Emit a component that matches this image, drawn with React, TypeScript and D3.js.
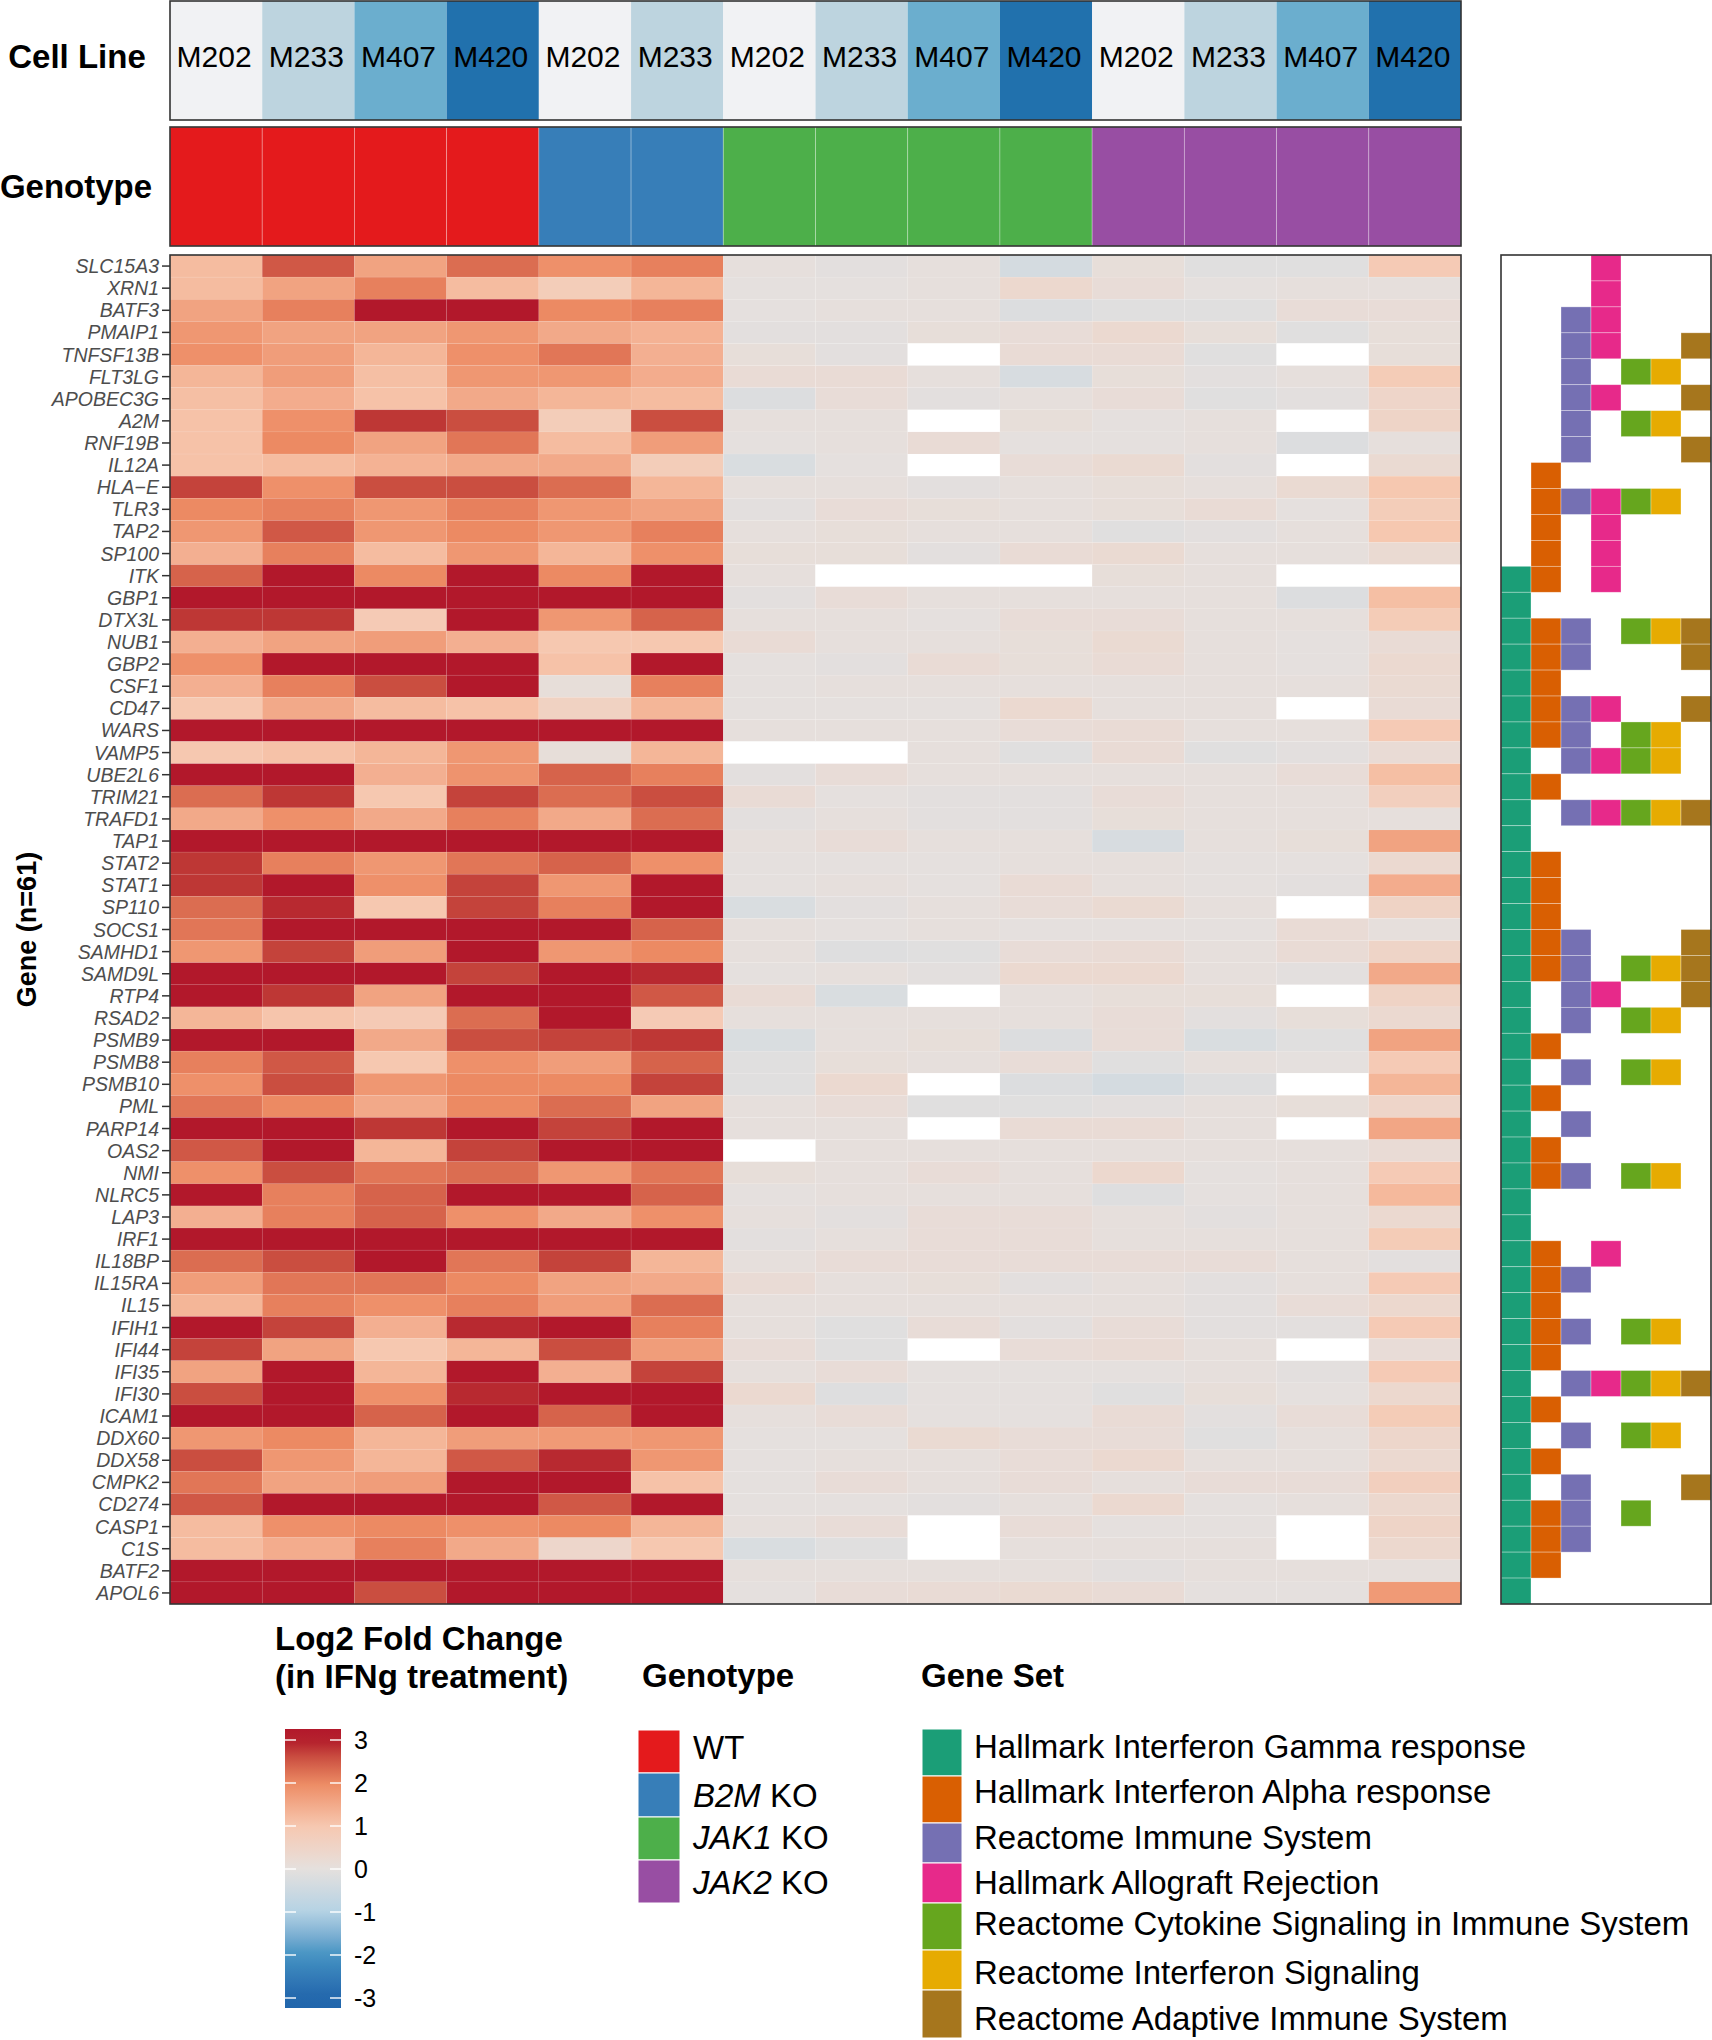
import React from 'react';
import * as d3 from 'd3';

// ---------------- DATA ----------------
const genes = [
  'SLC15A3','XRN1','BATF3','PMAIP1','TNFSF13B','FLT3LG','APOBEC3G','A2M','RNF19B','IL12A',
  'HLA\u2212E','TLR3','TAP2','SP100','ITK','GBP1','DTX3L','NUB1','GBP2','CSF1',
  'CD47','WARS','VAMP5','UBE2L6','TRIM21','TRAFD1','TAP1','STAT2','STAT1','SP110',
  'SOCS1','SAMHD1','SAMD9L','RTP4','RSAD2','PSMB9','PSMB8','PSMB10','PML','PARP14',
  'OAS2','NMI','NLRC5','LAP3','IRF1','IL18BP','IL15RA','IL15','IFIH1','IFI44',
  'IFI35','IFI30','ICAM1','DDX60','DDX58','CMPK2','CD274','CASP1','C1S','BATF2','APOL6'
];

const sampleCellLines = ['M202','M233','M407','M420','M202','M233','M202','M233','M407','M420','M202','M233','M407','M420'];
const sampleGenotypes = ['WT','WT','WT','WT','B2M KO','B2M KO','JAK1 KO','JAK1 KO','JAK1 KO','JAK1 KO','JAK2 KO','JAK2 KO','JAK2 KO','JAK2 KO'];

const wt_M202 = [1.2,1.2,1.6,1.8,1.9,1.3,1.15,1.1,1.1,1.1, 2.7,2.0,1.8,1.4,2.4, 3.5,2.8,1.4,1.9,1.4, 1.0,3.5,1.0,3.5,2.3, 1.5,3.5,2.8,2.8,2.3, 2.2,1.8,3.5,3.5,1.3, 3.5,2.1,1.9,2.2,3.5, 2.5,1.9,3.5,1.4,3.5, 2.3,1.7,1.3,3.2,2.7, 1.6,2.6,3.3,1.8,2.6, 2.2,2.5,1.2,1.2,3.5, 3.5];
const wt_M233 = [2.5,1.6,2.1,1.6,1.7,1.7,1.45,1.9,2.0,1.2, 1.9,2.1,2.5,2.1,3.5, 3.5,2.8,1.6,3.5,2.1, 1.5,3.5,1.1,3.5,2.8, 1.9,3.5,2.1,3.5,2.9, 3.5,2.7,3.5,2.8,1.05, 3.5,2.5,2.6,2.0,3.5, 3.5,2.6,2.1,2.1,3.5, 2.6,2.2,2.1,2.7,1.6, 3.2,3.5,3.5,2.0,1.8, 1.6,3.2,1.9,1.45,3.5, 3.5];
const wt_M407 = [1.6,2.1,3.5,1.6,1.3,1.15,1.1,2.8,1.6,1.35, 2.6,1.8,1.8,1.2,2.0, 3.5,0.9,1.7,3.5,2.6, 1.2,3.5,1.3,1.4,1.0, 1.5,3.5,1.8,1.9,1.0, 3.5,1.7,3.5,1.6,0.9, 1.5,1.0,1.8,1.5,2.8, 1.3,2.2,2.4,2.4,3.5, 3.5,2.2,1.9,1.4,1.0, 1.3,1.9,2.4,1.3,1.3, 1.7,3.5,2.0,2.1,3.5, 2.6];
const wt_M420 = [2.3,1.2,3.5,1.8,1.9,1.8,1.5,2.6,2.2,1.5, 2.6,2.1,2.0,1.8,3.2, 3.5,3.1,1.4,3.5,3.5, 1.1,3.5,1.8,1.85,2.7, 2.1,3.5,2.2,2.7,2.7, 3.5,3.5,2.7,3.5,2.3, 2.6,1.9,2.0,2.0,3.5, 2.7,2.3,3.5,1.9,3.5, 2.2,2.0,2.1,2.9,1.3, 3.5,2.9,3.5,1.7,2.5, 3.5,3.5,1.9,1.5,3.5, 3.5];
const b2m_M202 = [1.9,0.8,2.0,1.5,2.2,1.8,1.3,0.8,1.2,1.5, 2.3,1.8,1.8,1.3,2.0, 3.5,1.8,1.0,1.1,0.1, 0.6,3.5,0.1,2.4,2.3, 1.5,3.5,2.4,1.8,2.1, 3.5,1.8,3.5,3.5,3.5, 2.7,1.7,2.0,2.3,2.7, 3.5,1.8,3.5,1.5,3.5, 2.7,1.6,1.7,3.5,2.6, 1.4,3.1,2.4,1.75,2.9, 3.5,2.5,2.0,0.4,3.5, 3.5];
const b2m_M233 = [2.1,1.3,2.1,1.35,1.4,1.45,1.2,2.6,1.7,0.8, 1.3,1.6,2.1,1.9,3.5, 3.5,2.4,1.0,3.5,2.1, 1.3,3.5,1.3,2.1,2.6, 2.3,3.5,1.9,3.2,3.1, 2.4,2.0,2.9,2.5,0.9, 2.8,2.4,2.7,1.6,3.5, 3.1,2.2,2.4,1.9,3.5, 1.3,1.5,2.3,2.1,1.7, 2.7,3.5,3.5,1.8,1.8, 1.1,3.5,1.3,1.0,3.5, 3.5];
const jak1_M202 = [0.05,0,0,-0.05,0.1,0.2,-0.2,0.05,0,-0.25, 0.05,-0.05,0.05,0.1,0.05, -0.05,0.05,0.2,0,0, 0,0.05,null,-0.05,0.2, -0.05,0.05,0,0,-0.25, 0.05,0.05,0,0.2,0.05, -0.25,-0.1,-0.1,0.05,0.05, null,0.1,0,0.05,-0.05, 0.05,0.2,0.05,0.05,0.15, 0.05,0.3,0.05,0,0, 0,0,0.05,-0.25,0.05, 0];
const jak1_M233 = [-0.05,0,0.05,-0.05,-0.05,0.2,0.15,0.05,0.05,0, 0.05,0.15,0.1,0.1,null, 0.15,0.05,0.05,-0.05,0.05, 0,0.05,null,0.15,0, 0.05,0.15,0,0.05,-0.05, 0,-0.15,0.05,-0.25,0.05, 0.05,0.1,0.3,0.15,0.05, 0.05,0.05,0.05,-0.05,0.05, 0.15,0.05,0.05,-0.1,-0.1, 0.15,-0.15,0.15,0,0.05, 0.15,0,0.15,-0.1,0.05, 0.15];
const jak1_M407 = [0.05,0.05,0.05,0.1,null,0.05,-0.05,null,0.2,null, -0.05,0.1,0.05,-0.05,null, 0.05,0,0.05,0.2,0.05, 0,0.05,0.05,0.05,-0.05, -0.05,0.05,0,0,0.05, 0.05,-0.1,-0.05,null,0.05, 0.1,0.05,null,-0.1,null, 0.05,0.15,0.05,0.15,0.15, 0.15,0.1,0.05,0.15,null, 0,0,0,0.25,0.05, 0.05,-0.05,null,null,0.05, 0.2];
const jak1_M420 = [-0.35,0.35,-0.2,0.15,0.2,-0.3,0.05,0.1,0,0.15, 0.05,0.05,0.05,0.2,null, 0.05,0.15,0.1,0.1,0.05, 0.3,0.15,-0.1,0.05,-0.05, -0.05,0.05,0.05,0.2,0.15, 0,0.15,0.3,0.05,0.05, -0.2,0.15,-0.2,-0.1,0.2, 0.05,0.05,0.05,0.15,0.15, 0.15,-0.05,0.05,-0.05,0.15, 0,0,0,0.15,0.15, 0.15,0.05,0.15,0.05,0.05, 0.25];
const jak2_M202 = [0.1,0.15,-0.1,0.3,0.2,0.1,0.15,0,0,0.25, 0.1,0.1,-0.1,0.25,0.1, 0.05,0.15,0.25,0.2,0.05, 0.05,0.2,0.2,0.05,0.15, 0.1,-0.3,0.05,0.05,0.25, 0,0.2,0.3,0.1,0.15, 0.15,-0.1,-0.35,-0.05,0.2, 0.05,0.35,-0.15,0.05,0.05, 0.15,0.05,0.05,0.15,0.2, 0,-0.1,0.2,0.15,0.3, 0.05,0.3,0,0.05,-0.05, 0.2];
const jak2_M233 = [-0.1,0,-0.1,0.1,-0.1,-0.05,-0.1,0.05,0.05,-0.05, 0.05,0.2,-0.05,0.05,0.05, 0.05,0.05,0.05,0.05,0.05, 0.05,0.05,-0.1,0.05,0.05, 0.05,0.05,0,0,0.05, 0,0.05,0.05,0.1,-0.05, -0.25,0.05,-0.15,0.05,0.05, 0.05,0,0,-0.05,0.05, 0.15,-0.05,-0.05,-0.05,0.05, 0.05,0.1,-0.05,-0.1,0.05, 0.15,0,0,0.05,0.05, 0];
const jak2_M407 = [-0.1,0.05,0.15,-0.1,null,0.05,-0.05,null,-0.2,null, 0.25,0,0.05,0.05,null, -0.2,0.05,0,0,0.05, null,0.05,-0.05,0.15,0.05, 0.05,0.1,0,-0.05,null, 0.2,0.2,-0.05,null,0.1, -0.1,0,null,0.1,null, 0.05,0.05,0.05,0.05,0.05, 0.05,0.05,0.15,-0.05,null, -0.05,0,0.15,0.05,0.05, 0.15,0.05,null,null,0.05, 0];
const jak2_M420 = [0.9,0.05,0.15,0.1,0.1,0.85,0.45,0.5,0.05,0.25, 1.0,0.8,1.0,0.25,null, 1.15,0.85,0.2,0.3,0.25, 0.2,0.9,0.2,1.15,0.7, 0.05,1.6,0.3,1.45,0.55, 0.05,0.5,1.5,0.55,0.3, 1.6,0.9,1.3,0.45,1.55, 0.2,0.9,1.25,0.3,0.85, -0.05,0.9,0.35,0.9,0.15, 0.9,0.35,0.85,0.4,0.3, 0.7,0.35,0.5,0.35,0.05, 1.75];

const sampleValues = [wt_M202, wt_M233, wt_M407, wt_M420, b2m_M202, b2m_M233,
  jak1_M202, jak1_M233, jak1_M407, jak1_M420, jak2_M202, jak2_M233, jak2_M407, jak2_M420];

const genotypeLevels = ['WT', 'B2M KO', 'JAK1 KO', 'JAK2 KO'];
const genotypeColors = ['#E41A1C', '#377EB8', '#4DAF4A', '#984EA3'];
const cellLineLevels = ['M202', 'M233', 'M407', 'M420'];
const cellLineColors = ['#F1F2F4', '#BDD4DF', '#6BAECE', '#2171AD'];

const geneSets = [
  'Hallmark Interferon Gamma response',
  'Hallmark Interferon Alpha response',
  'Reactome Immune System',
  'Hallmark Allograft Rejection',
  'Reactome Cytokine Signaling in Immune System',
  'Reactome Interferon Signaling',
  'Reactome Adaptive Immune System'
];
const geneSetColors = ['#1B9E77', '#D95F02', '#7570B3', '#E7298A', '#66A61E', '#E6AB02', '#A6761D'];

// membership rows (panel rows, top = 0)
const setIFNg = [12,13,14,15,16,17,18,19,20,21,22,23,24,25,26,27,28,29,30,31,32,33,34,35,36,37,38,39,40,41,42,43,44,45,46,47,48,49,50,51];
const setIFNa = [8,9,10,11,12,14,15,16,17,18,20,23,24,25,26,27,30,32,34,35,38,39,40,41,42,44,46,48,49,50];
const setImmune = [2,3,4,5,6,7,9,14,15,17,18,19,21,26,27,28,29,31,33,35,39,41,43,45,47,48,49];
const setAllograft = [0,1,2,3,5,9,10,11,12,17,19,21,28,38,43];
const setCytokine = [4,6,9,14,18,19,21,27,29,31,35,41,43,45,48];
const setIFNsig = [4,6,9,14,18,19,21,27,29,31,35,41,43,45];
const setAdaptive = [3,5,7,14,15,17,21,26,27,28,43,47];
const setMembers = [setIFNg, setIFNa, setImmune, setAllograft, setCytokine, setIFNsig, setAdaptive];
const panelRows = d3.range(52);

const colorbarTicks = [3, 2, 1, 0, -1, -2, -3];

// ---------------- COMPONENT ----------------
const FONT = '"Liberation Sans", Arial, Helvetica, sans-serif';

export default function App() {
  const W = 1712, H = 2040;
  const hmLeft = 170, hmRight = 1461, hmTop = 255, hmBottom = 1604;

  const x = d3.scaleBand<number>().domain(d3.range(sampleValues.length)).range([hmLeft, hmRight]);
  const y = d3.scaleBand<string>().domain(genes).range([hmTop, hmBottom]);

  const color = d3.scaleLinear<string>()
    .domain([-3, -2, -1, 0, 1, 2, 3])
    .range(['#2166AC', '#4393C3', '#B4D2E4', '#E5E0DE', '#F6C8B0', '#EC8A63', '#B2182B'])
    .interpolate(d3.interpolateLab)
    .clamp(true);

  const cellLineColor = d3.scaleOrdinal<string, string>().domain(cellLineLevels).range(cellLineColors);
  const genotypeColor = d3.scaleOrdinal<string, string>().domain(genotypeLevels).range(genotypeColors);

  const px = d3.scaleBand<number>().domain(d3.range(geneSets.length)).range([1501, 1711]);
  const py = d3.scaleBand<number>().domain(panelRows).range([hmTop, hmBottom]);

  // colorbar
  const cbTop = 1729, cbBottom = 2008, cbLeft = 285, cbW = 56;
  const cbY = d3.scaleLinear().domain([3, -3]).range([1740, 1998]);
  const cbMax = cbY.invert(cbTop), cbMin = cbY.invert(cbBottom);
  const gradStops = d3.range(0, 1.0001, 0.05).map(t => ({ t, c: color(cbMax + (cbMin - cbMax) * t) }));

  const genoKeyY = [1730, 1773, 1817, 1860, 1903];
  const genoLabelY = [1747, 1795, 1837, 1882];
  const setKeyY = [1729, 1776, 1823, 1863, 1903, 1950, 1990, 2038];
  const setLabelY = [1746, 1791, 1837, 1882, 1923, 1972, 2018];

  const strokeCol = '#333333';

  const renderGeno = (g: string) => {
    const parts = g.split(' ');
    if (parts.length === 1) return <tspan>{g}</tspan>;
    return (<>
      <tspan fontStyle="italic">{parts[0]}</tspan>
      <tspan> {parts[1]}</tspan>
    </>);
  };

  return (
    <svg width={W} height={H} style={{ position: 'absolute', left: 0, top: 0, background: '#fff' }}
      fontFamily={FONT}>
      <defs>
        <linearGradient id="cbgrad" x1="0" y1="0" x2="0" y2="1">
          {gradStops.map((s, i) => <stop key={i} offset={s.t} stopColor={s.c} />)}
        </linearGradient>
      </defs>

      {/* Cell line header */}
      <text x={77} y={56} fontSize={33} fontWeight="bold" textAnchor="middle" dominantBaseline="central">Cell Line</text>
      {sampleCellLines.map((cl, i) => (
        <g key={'cl' + i}>
          <rect x={x(i)} y={1} width={x.bandwidth()} height={119} fill={cellLineColor(cl)} />
          <text x={(x(i) as number) + x.bandwidth() / 2 - 2} y={56} fontSize={30} textAnchor="middle"
            dominantBaseline="central">{cl}</text>
        </g>
      ))}
      <rect x={hmLeft} y={1} width={hmRight - hmLeft} height={119} fill="none" stroke={strokeCol} strokeWidth={1.6} />

      {/* Genotype header */}
      <text x={76} y={186} fontSize={33} fontWeight="bold" textAnchor="middle" dominantBaseline="central">Genotype</text>
      {sampleGenotypes.map((g, i) => (
        <rect key={'gt' + i} x={x(i)} y={127} width={x.bandwidth()} height={119} fill={genotypeColor(g)}
          stroke="rgba(255,255,255,0.35)" strokeWidth={0.8} />
      ))}
      <rect x={hmLeft} y={127} width={hmRight - hmLeft} height={119} fill="none" stroke={strokeCol} strokeWidth={1.6} />

      {/* Heatmap */}
      {sampleValues.map((col, j) => col.map((v, i) => (
        <rect key={`h${j}-${i}`} x={x(j)} y={y(genes[i])} width={x.bandwidth()} height={y.bandwidth()}
          fill={v === null ? '#FFFFFF' : color(v as number)}
          stroke={v === null ? 'none' : 'rgba(255,255,255,0.12)'} strokeWidth={0.6} />
      )))}
      <rect x={hmLeft} y={hmTop} width={hmRight - hmLeft} height={hmBottom - hmTop} fill="none" stroke={strokeCol} strokeWidth={1.6} />

      {/* Gene axis */}
      {genes.map(g => {
        const cy = (y(g) as number) + y.bandwidth() / 2;
        return (
          <g key={'gl' + g}>
            <line x1={162} x2={hmLeft} y1={cy} y2={cy} stroke={strokeCol} strokeWidth={1.5} />
            <text x={159} y={cy} fontSize={19.5} fontStyle="italic" fill="#4D4D4D" textAnchor="end"
              dominantBaseline="central">{g}</text>
          </g>
        );
      })}
      <text transform={`translate(27,${(hmTop + hmBottom) / 2}) rotate(-90)`} fontSize={27} fontWeight="bold"
        textAnchor="middle" dominantBaseline="central">Gene (n=61)</text>

      {/* Gene set panel */}
      {setMembers.map((rows, k) => rows.map(r => (
        <rect key={`p${k}-${r}`} x={px(k)} y={py(r)} width={px.bandwidth()} height={py.bandwidth()}
          fill={geneSetColors[k]} stroke="rgba(255,255,255,0.45)" strokeWidth={0.7} />
      )))}
      <rect x={1501} y={hmTop} width={210} height={hmBottom - hmTop} fill="none" stroke={strokeCol} strokeWidth={1.6} />

      {/* Legend: colour bar */}
      <text x={275} y={1650} fontSize={33} fontWeight="bold">Log2 Fold Change</text>
      <text x={275} y={1688} fontSize={33} fontWeight="bold">(in IFNg treatment)</text>
      <rect x={cbLeft} y={cbTop} width={cbW} height={cbBottom - cbTop} fill="url(#cbgrad)" />
      {colorbarTicks.map(t => (
        <g key={'cb' + t}>
          <line x1={cbLeft} x2={cbLeft + 11} y1={cbY(t)} y2={cbY(t)} stroke="#fff" strokeWidth={1.4} />
          <line x1={cbLeft + cbW - 11} x2={cbLeft + cbW} y1={cbY(t)} y2={cbY(t)} stroke="#fff" strokeWidth={1.4} />
          <text x={354} y={cbY(t)} fontSize={25} dominantBaseline="central">{t < 0 ? '-' + Math.abs(t) : String(t)}</text>
        </g>
      ))}

      {/* Legend: genotype */}
      <text x={642} y={1687} fontSize={33} fontWeight="bold">Genotype</text>
      {genotypeLevels.map((g, i) => (
        <g key={'lg' + g}>
          <rect x={638} y={genoKeyY[i]} width={42} height={genoKeyY[i + 1] - genoKeyY[i]} fill={genotypeColor(g)}
            stroke="#fff" strokeWidth={1} />
          <text x={693} y={genoLabelY[i]} fontSize={33} dominantBaseline="central">
            {renderGeno(g)}
          </text>
        </g>
      ))}

      {/* Legend: gene set */}
      <text x={921} y={1687} fontSize={33} fontWeight="bold">Gene Set</text>
      {geneSets.map((s, i) => (
        <g key={'ls' + i}>
          <rect x={922} y={setKeyY[i]} width={40} height={setKeyY[i + 1] - setKeyY[i]} fill={geneSetColors[i]}
            stroke="#fff" strokeWidth={1} />
          <text x={974} y={setLabelY[i]} fontSize={33} dominantBaseline="central">{s}</text>
        </g>
      ))}
    </svg>
  );
}
